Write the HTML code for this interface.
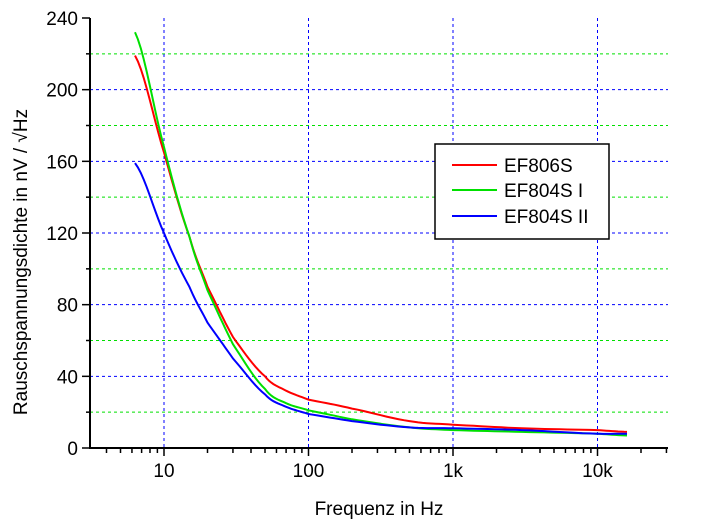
<!DOCTYPE html>
<html><head><style>body{margin:0;background:#fff}svg{display:block}text{font-family:"Liberation Sans",Arial,sans-serif;fill:#000}</style></head>
<body>
<svg id="s" width="702" height="526" xmlns="http://www.w3.org/2000/svg"></svg>
<script>
const s=document.getElementById('s');let h='';
const X=f=>164+144.5*Math.log10(f/10), Y=v=>448-v*430/240;
const L=90,R=668,T=18,B=448;
for(let v=20;v<=220;v+=20){const c=v%40?'#00e000':'#0000ff';h+=`<line x1="${L}" x2="${R}" y1="${Y(v)}" y2="${Y(v)}" stroke="${c}" stroke-dasharray="3,3"/>`;}
for(const f of [10,100,1000,10000])h+=`<line x1="${X(f)}" x2="${X(f)}" y1="${T}" y2="${B}" stroke="#0000ff" stroke-dasharray="3,3"/>`;
h+=`<line x1="${L}" x2="${L}" y1="${T}" y2="${B+1}" stroke="#000" stroke-width="2"/><line x1="${L}" x2="${R}" y1="${B}" y2="${B}" stroke="#000" stroke-width="2"/>`;
for(let v=0;v<=240;v+=20){const l=v%40?4:8;h+=`<line x1="${L-l}" x2="${L}" y1="${Y(v)}" y2="${Y(v)}" stroke="#000" stroke-width="1.5"/>`;if(v%40==0)h+=`<text x="${L-12}" y="${Y(v)+7}" font-size="19" text-anchor="end">${v}</text>`;}
for(let d=1;d<=1e4;d*=10)for(let k=1;k<10;k++){const f=d*k,x=X(f);if(x<L||x>R)continue;h+=`<line x1="${x}" x2="${x}" y1="${B}" y2="${B+(k==1?8:5)}" stroke="#000" stroke-width="1.5"/>`;}
[[10,'10'],[100,'100'],[1000,'1k'],[10000,'10k']].forEach(([f,t])=>h+=`<text x="${X(f)}" y="477" font-size="19" text-anchor="middle">${t}</text>`);
h+=`<text x="379" y="515" font-size="19" text-anchor="middle">Frequenz in Hz</text>`;
h+=`<text transform="translate(27,262) rotate(-90)" font-size="19" text-anchor="middle">Rauschspannungsdichte in  nV / √Hz</text>`;
const D={red:[[6.3,219],[10,165],[15,118],[20,90],[30,62],[50,40],[70,32],[100,27],[200,22],[500,15],[1000,13],[3000,11],[10000,10],[16000,9]],
'#00e000':[[6.3,232],[10,168],[15,118],[20,88],[30,58],[50,33],[70,25],[100,21],[200,16],[500,11.5],[1000,10],[3000,9],[10000,8],[16000,7]],
'#0000ff':[[6.3,159],[10,120],[15,90],[20,70],[30,50],[50,30],[70,23],[100,19],[200,15],[500,11.5],[1000,11],[3000,10],[10000,8],[16000,8]]};
for(const c of ['red','#00e000','#0000ff']){const p=D[c];let d='';
for(let i=0;i<p.length-1;i++){const[a,b]=[p[i],p[i+1]];for(let t=0;t<=1;t+=0.1){const lf=Math.log10(a[0])*(1-t)+Math.log10(b[0])*t;
const p0=p[i-1]||a,p3=p[i+2]||b;const v=cat(p0[1],a[1],b[1],p3[1],t);d+=(d?'L':'M')+X(10**lf).toFixed(1)+','+Y(v).toFixed(1);}}
h+=`<path d="${d}" fill="none" stroke="${c}" stroke-width="2"/>`;}
function cat(a,b,c,e,t){return 0.5*(2*b+(-a+c)*t+(2*a-5*b+4*c-e)*t*t+(-a+3*b-3*c+e)*t*t*t);}
h+=`<rect x="435" y="144" width="174" height="95" fill="#fff" stroke="#000" stroke-width="1.5"/>`;
[['red','EF806S',165],['#00e000','EF804S I',190],['#0000ff','EF804S II',216]].forEach(([c,t,y])=>{h+=`<line x1="452" x2="497" y1="${y}" y2="${y}" stroke="${c}" stroke-width="2"/><text x="504" y="${y+7}" font-size="19">${t}</text>`;});
s.innerHTML=h;
</script>
</body></html>
